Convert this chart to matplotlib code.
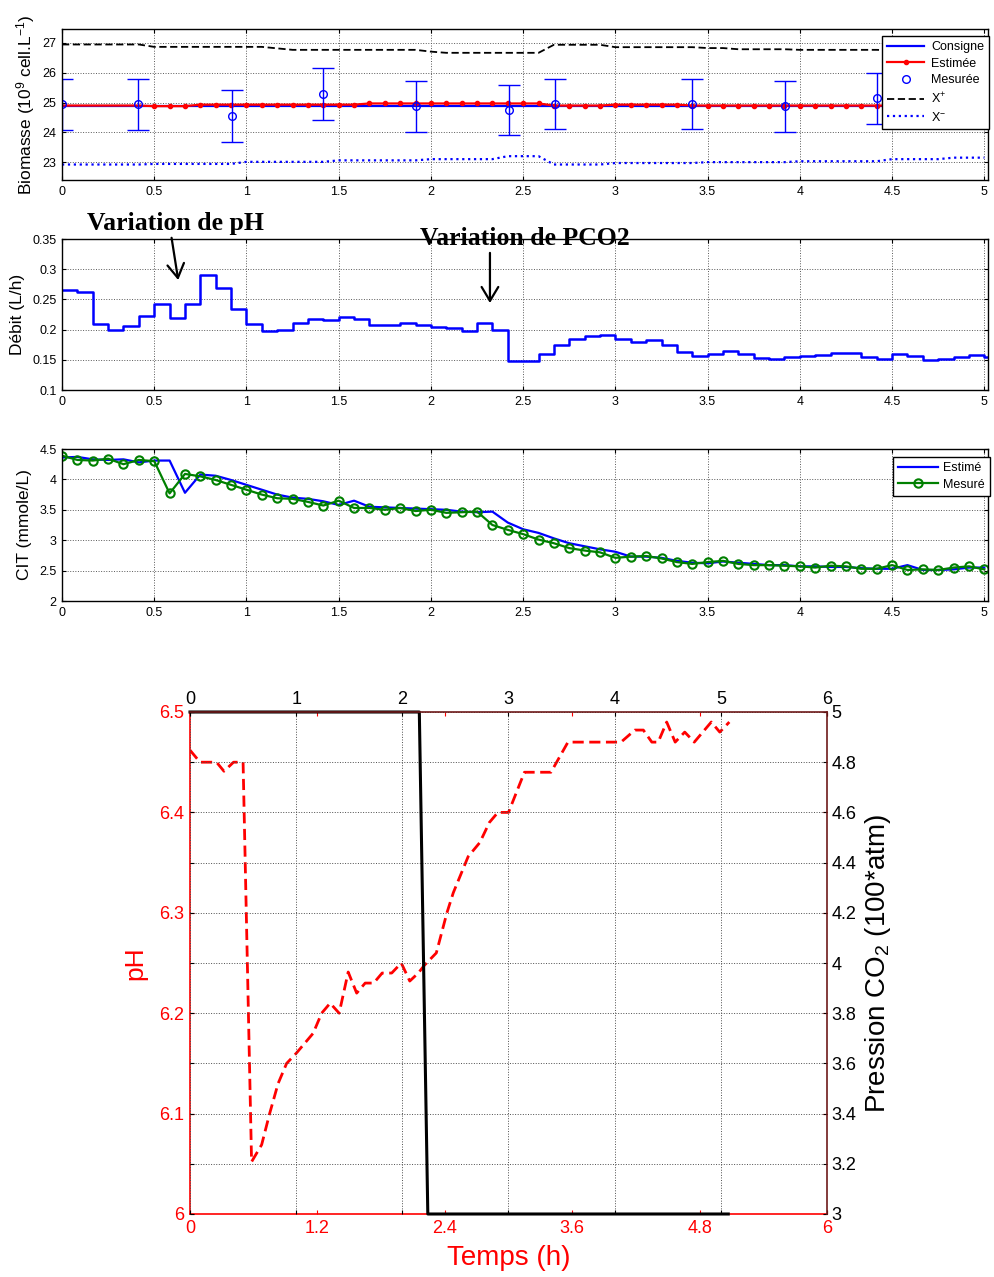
import matplotlib.pyplot as plt
import numpy as np
from matplotlib.ticker import FormatStrFormatter

plt.rcParams['font.family'] = ['Liberation Sans', 'DejaVu Sans']
plt.rcParams['mathtext.fontset'] = 'custom'
plt.rcParams['mathtext.rm'] = 'Liberation Sans'
plt.rcParams['mathtext.it'] = 'Liberation Sans:italic'

# sampling grid: one point every 5 minutes, 0 .. 5 h
t5 = np.arange(61) / 12.0

# ---- biomass panel ----
consigne = 24.9
biomasse_est = ([24.9] * 6 + [24.88] * 3 + [24.93] * 11 + [24.97] * 12 +
                [24.9] * 4 + [24.93] * 5 + [24.9] * 20)
x_plus = ([26.95] * 6 + [26.87] * 8 + [26.82] + [26.77] * 9 + [26.71] +
          [26.67] * 7 + [26.94] * 4 + [26.86] * 6 + [26.83] * 2 +
          [26.79] * 4 + [26.77] * 6 + [26.75] * 7)
x_minus = ([22.92] * 6 + [22.94] * 6 + [23.01] * 6 + [23.06] * 6 +
           [23.10] * 5 + [23.20] * 3 + [22.92] * 4 + [22.97] * 6 +
           [23.0] * 6 + [23.03] * 6 + [23.10] * 4 + [23.15] * 3)
t_mes = [0.0, 0.413, 0.923, 1.416, 1.917, 2.423, 2.672, 3.416, 3.922, 4.42]
biomasse_mes = [24.94, 24.94, 24.55, 25.28, 24.88, 24.75, 24.95, 24.95, 24.88, 25.14]
biomasse_err = [0.86, 0.86, 0.86, 0.87, 0.86, 0.85, 0.85, 0.85, 0.86, 0.86]

# ---- flow panel (step every 5 min) ----
debit = [0.265, 0.263, 0.2095, 0.200, 0.206, 0.223, 0.243, 0.219, 0.243, 0.291,
         0.269, 0.234, 0.2095, 0.198, 0.200, 0.211, 0.218, 0.216, 0.221, 0.218,
         0.208, 0.208, 0.211, 0.208, 0.205, 0.202, 0.198, 0.211, 0.200, 0.148,
         0.148, 0.160, 0.175, 0.185, 0.190, 0.191, 0.185, 0.180, 0.183, 0.175,
         0.163, 0.156, 0.159, 0.165, 0.159, 0.153, 0.151, 0.155, 0.156, 0.158,
         0.161, 0.161, 0.155, 0.151, 0.160, 0.157, 0.149, 0.151, 0.155, 0.158, 0.155]

# ---- CIT panel ----
cit_est = [4.36, 4.37, 4.33, 4.32, 4.33, 4.28, 4.31, 4.31, 3.78, 4.08,
           4.06, 3.99, 3.91, 3.83, 3.75, 3.70, 3.68, 3.64, 3.58, 3.65,
           3.55, 3.54, 3.53, 3.52, 3.51, 3.50, 3.47, 3.46, 3.47, 3.29,
           3.18, 3.12, 3.03, 2.95, 2.90, 2.85, 2.81, 2.73, 2.73, 2.71,
           2.66, 2.63, 2.62, 2.65, 2.63, 2.61, 2.59, 2.59, 2.57, 2.57,
           2.56, 2.56, 2.54, 2.53, 2.53, 2.59, 2.51, 2.51, 2.52, 2.55, 2.55]
cit_mes = [4.39, 4.32, 4.31, 4.34, 4.25, 4.32, 4.30, 3.77, 4.09, 4.05,
           3.99, 3.91, 3.83, 3.75, 3.69, 3.68, 3.63, 3.57, 3.65, 3.53,
           3.53, 3.50, 3.53, 3.48, 3.50, 3.45, 3.46, 3.47, 3.25, 3.17,
           3.10, 3.01, 2.95, 2.87, 2.83, 2.80, 2.71, 2.73, 2.74, 2.70,
           2.64, 2.61, 2.64, 2.66, 2.61, 2.59, 2.59, 2.58, 2.57, 2.55,
           2.58, 2.57, 2.53, 2.53, 2.59, 2.51, 2.52, 2.51, 2.55, 2.57, 2.52]

# ---- pH / PCO2 panel ----
ph_t = [0, 0.094, 0.25, 0.32, 0.41, 0.50, 0.58, 0.675, 0.75, 0.83, 0.91, 1.0,
        1.16, 1.24, 1.32, 1.405, 1.49, 1.57, 1.65, 1.73, 1.81, 1.90, 1.99, 2.07,
        2.15, 2.21, 2.32, 2.42, 2.48, 2.62, 2.73, 2.82, 2.90, 3.00, 3.15, 3.40,
        3.56, 4.06, 4.19, 4.27, 4.35, 4.41, 4.49, 4.57, 4.66, 4.75, 4.91, 4.99, 5.08]
ph_v = [6.462, 6.45, 6.45, 6.441, 6.45, 6.45, 6.052, 6.069, 6.10, 6.13, 6.15, 6.16,
        6.18, 6.20, 6.21, 6.20, 6.241, 6.22, 6.23, 6.23, 6.24, 6.24, 6.25, 6.232,
        6.24, 6.248, 6.26, 6.30, 6.32, 6.356, 6.37, 6.39, 6.40, 6.40, 6.44, 6.44,
        6.47, 6.47, 6.482, 6.482, 6.47, 6.47, 6.49, 6.47, 6.48, 6.47, 6.49, 6.48, 6.49]
pco2_t = [0, 2.16, 2.24, 5.07]
pco2_v = [5, 5, 3, 3]

W, H = 995, 1277
fig = plt.figure(figsize=(W / 100, H / 100), dpi=100)


def px_axes(left, top, right, bottom, **kw):
    return fig.add_axes([left / W, 1 - bottom / H, (right - left) / W, (bottom - top) / H], **kw)


def matlab_style(ax, size=9):
    ax.tick_params(direction='in', length=3, top=True, right=True, labelsize=size, pad=4)
    ax.grid(True, ls=':', color='0.35', lw=0.7)
    ax.xaxis.set_major_formatter(FormatStrFormatter('%g'))
    ax.yaxis.set_major_formatter(FormatStrFormatter('%g'))
    for s in ax.spines.values():
        s.set_linewidth(1.0)


# ---------------- panel 1: biomasse ----------------
ax1 = px_axes(62, 29, 988, 180)
ax1.plot([0, 5.02], [consigne, consigne], color='blue', lw=1.6, label='Consigne')
ax1.plot(t5, biomasse_est, color='red', lw=1.6, marker='.', ms=6,
         markevery=slice(6, None), label='Estimée')
ax1.errorbar(t_mes, biomasse_mes, yerr=biomasse_err, fmt='none', ecolor='blue',
             elinewidth=1.0, capsize=8, capthick=1.0)
ax1.plot(t_mes, biomasse_mes, 'o', ms=5.5, mfc='none', mec='blue', mew=1.0, label='Mesurée')
ax1.plot(t5, x_plus, color='black', ls='--', lw=1.3, dashes=(4, 2), label='X$^{+}$')
ax1.plot(t5, x_minus, color='blue', ls=':', lw=1.6, label='X$^{-}$')
ax1.set_xlim(0, 5.02)
ax1.set_ylim(22.4, 27.47)
ax1.set_yticks([23, 24, 25, 26, 27])
ax1.set_xticks(np.arange(0, 5.01, 0.5))
matlab_style(ax1)
ax1.set_ylabel('Biomasse (10$^{9}$ cell.L$^{-1}$)', fontsize=12.5)
ax1.yaxis.set_label_coords(-0.027, 0.5)
leg1 = ax1.legend(loc='upper left', bbox_to_anchor=(882 / W, 1 - 36 / H),
                  bbox_transform=fig.transFigure, borderaxespad=0, fontsize=9,
                  frameon=True, fancybox=False, edgecolor='black', framealpha=1,
                  handlelength=3.0, handletextpad=0.55, labelspacing=0.37,
                  borderpad=0.4)
leg1.get_frame().set_linewidth(1.0)

# ---------------- panel 2: debit ----------------
ax2 = px_axes(62, 239, 988, 390)
ax2.step(list(t5) + [5.02], debit + [debit[-1]], where='post', color='blue', lw=1.8)
ax2.set_xlim(0, 5.02)
ax2.set_ylim(0.1, 0.35)
ax2.set_yticks([0.1, 0.15, 0.2, 0.25, 0.3, 0.35])
ax2.set_xticks(np.arange(0, 5.01, 0.5))
matlab_style(ax2)
ax2.set_ylabel('Débit (L/h)', fontsize=12.5)
ax2.yaxis.set_label_coords(-0.040, 0.5)
ax2.text(0.135, 0.3652, 'Variation de pH', fontfamily='Liberation Serif',
         fontweight='bold', fontsize=18.5, va='baseline', clip_on=False)
ax2.text(1.94, 0.340, 'Variation de PCO2', fontfamily='Liberation Serif',
         fontweight='bold', fontsize=18.5, va='baseline', clip_on=False)
arrow = dict(arrowstyle='->,head_length=0.5,head_width=0.3', lw=1.6,
             color='black', mutation_scale=20, shrinkA=0, shrinkB=0)
ax2.annotate('', xy=(0.63, 0.282), xytext=(0.594, 0.352), arrowprops=arrow,
             annotation_clip=False)
ax2.annotate('', xy=(2.32, 0.244), xytext=(2.32, 0.327), arrowprops=arrow,
             annotation_clip=False)

# ---------------- panel 3: CIT ----------------
ax3 = px_axes(62, 449, 988, 601)
ax3.plot(t5, cit_est, color='blue', lw=1.6, label='Estimé')
ax3.plot(t5, cit_mes, color='green', lw=1.6, marker='o', ms=6, mfc='none',
         mew=1.5, label='Mesuré')
ax3.set_xlim(0, 5.02)
ax3.set_ylim(2, 4.5)
ax3.set_yticks([2, 2.5, 3, 3.5, 4, 4.5])
ax3.set_xticks(np.arange(0, 5.01, 0.5))
matlab_style(ax3)
ax3.set_ylabel('CIT (mmole/L)', fontsize=12.5)
ax3.yaxis.set_label_coords(-0.0327, 0.5)
leg3 = ax3.legend(loc='upper left', bbox_to_anchor=(893 / W, 1 - 457 / H),
                  bbox_transform=fig.transFigure, borderaxespad=0, fontsize=9,
                  frameon=True, fancybox=False, edgecolor='black', framealpha=1,
                  handlelength=3.2, handletextpad=0.4, labelspacing=0.37,
                  borderpad=0.4)
leg3.get_frame().set_linewidth(1.0)

# ---------------- panel 4: pH and PCO2 ----------------
ax_ph = px_axes(190, 712, 827, 1214)
ax_ph.plot(ph_t, ph_v, color='red', lw=2.0, ls='--', dashes=(4, 2))
ax_ph.set_xlim(0, 6)
ax_ph.set_ylim(6, 6.5)
ax_ph.set_xticks([0, 1.2, 2.4, 3.6, 4.8, 6])
ax_ph.set_xticklabels(['0', '1.2', '2.4', '3.6', '4.8', '6'])
ax_ph.set_yticks([6, 6.1, 6.2, 6.3, 6.4, 6.5])
ax_ph.set_yticklabels(['6', '6.1', '6.2', '6.3', '6.4', '6.5'])
ax_ph.tick_params(direction='in', length=3, top=True, right=True, colors='red',
                  labelsize=13, pad=4)
for side in ['left', 'bottom']:
    ax_ph.spines[side].set_color('red')
    ax_ph.spines[side].set_linewidth(1.2)
for side in ['top', 'right']:
    ax_ph.spines[side].set_visible(False)
ax_ph.set_xlabel('Temps (h)', color='red', fontsize=20)
ax_ph.xaxis.set_label_coords(0.5, -0.061)
ax_ph.set_ylabel('pH', color='red', fontsize=19)
ax_ph.yaxis.set_label_coords(-0.0675, 0.5)

ax_p = px_axes(190, 712, 827, 1214, label='pco2')
ax_p.set_facecolor('none')
ax_p.plot(pco2_t, pco2_v, color='black', lw=2.2, clip_on=False)
ax_p.set_xlim(0, 6)
ax_p.set_ylim(3, 5)
ax_p.set_xticks([0, 1, 2, 3, 4, 5, 6])
ax_p.set_yticks([3, 3.2, 3.4, 3.6, 3.8, 4, 4.2, 4.4, 4.6, 4.8, 5])
ax_p.xaxis.set_major_formatter(FormatStrFormatter('%g'))
ax_p.yaxis.set_major_formatter(FormatStrFormatter('%g'))
ax_p.tick_params(direction='in', length=3, top=True, bottom=True, left=True, right=True,
                 labeltop=True, labelbottom=False, labelleft=False, labelright=True,
                 colors='black', labelsize=13, pad=3)
ax_p.grid(True, ls=':', color='0.3', lw=0.7)
for side in ['left', 'bottom']:
    ax_p.spines[side].set_visible(False)
for side in ['top', 'right']:
    ax_p.spines[side].set_color('#6e1a1a')
    ax_p.spines[side].set_linewidth(1.2)
ax_p.yaxis.set_label_position('right')
ax_p.set_ylabel('Pression CO$_2$ (100*atm)', fontsize=20)
ax_p.yaxis.set_label_coords(1.056, 0.5)

fig.savefig('out.png', dpi=100)
